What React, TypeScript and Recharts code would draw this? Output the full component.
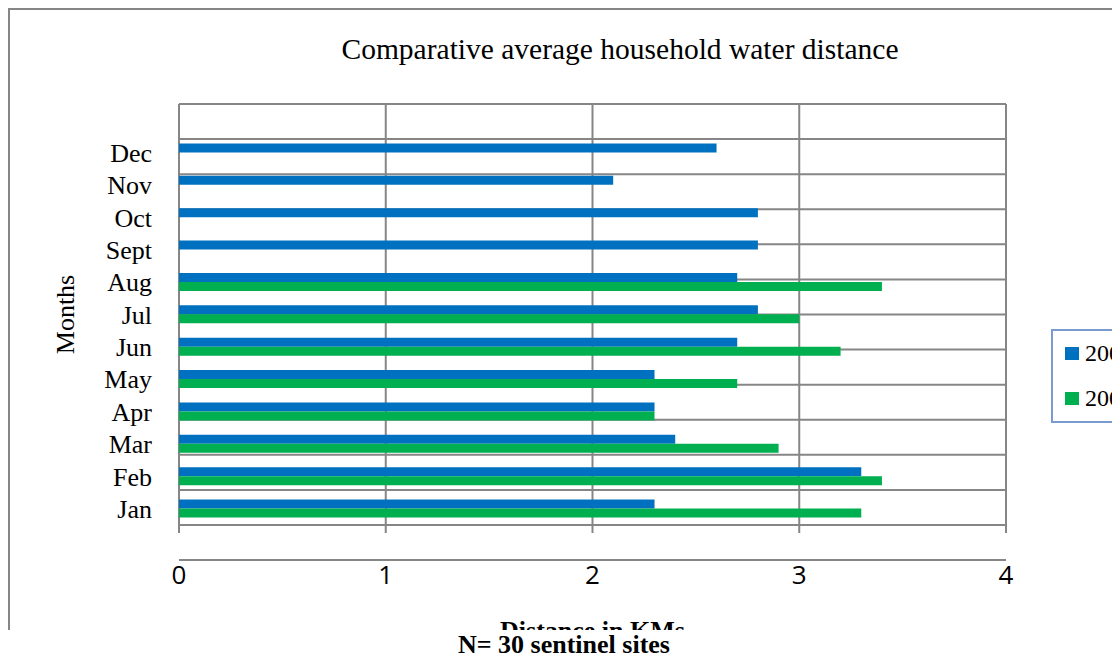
import { BarChart, Bar, XAxis, YAxis, CartesianGrid, Legend } from 'recharts';

const MONTHS = ['Jan', 'Feb', 'Mar', 'Apr', 'May', 'Jun', 'Jul', 'Aug', 'Sept', 'Oct', 'Nov', 'Dec', ''];
const DIST_2008 = [2.3, 3.3, 2.4, 2.3, 2.3, 2.7, 2.8, 2.7, 2.8, 2.8, 2.1, 2.6, null];
const DIST_2009 = [3.3, 3.4, 2.9, 2.3, 2.7, 3.2, 3.0, 3.4, null, null, null, null, null];
const SERIES_NAMES = ['2008', '2009'];
const SERIES_COLORS = ['#0070C0', '#00B050'];
const X_TICKS = [0, 1, 2, 3, 4];

const GRID = '#868686';
const SERIF = '"Liberation Serif", "Times New Roman", serif';

const data = MONTHS.map((month, i) => ({
  month,
  [SERIES_NAMES[0]]: DIST_2008[i],
  [SERIES_NAMES[1]]: DIST_2009[i],
}));

// boundaries between month rows, used for gridlines and tick marks
const ROW_EDGES = MONTHS.map((_, i) => i).concat(MONTHS.length);

function LegendBox() {
  return (
    <div
      style={{
        width: 130,
        height: 90,
        border: '2px solid #7b9bd0',
        background: '#fff',
        fontFamily: SERIF,
        fontSize: 24,
        color: '#000',
      }}
    >
      {SERIES_NAMES.map((name, i) => (
        <div key={name} style={{ display: 'flex', alignItems: 'center', height: 45, paddingLeft: 12 }}>
          <span style={{ width: 14, height: 13, background: SERIES_COLORS[i], marginRight: 6 }} />
          <span>{name}</span>
        </div>
      ))}
    </div>
  );
}

function MonthsLabel(props: any) {
  const { viewBox } = props;
  const cx = viewBox.x + 55;
  const cy = viewBox.y + viewBox.height / 2;
  return (
    <text
      x={cx}
      y={cy}
      transform={`rotate(-90 ${cx} ${cy})`}
      textAnchor="middle"
      dominantBaseline="central"
      fontFamily={SERIF}
      fontSize={26}
      fill="#000"
    >
      Months
    </text>
  );
}

export default function App() {
  return (
    <div style={{ position: 'relative', width: 1112, height: 648 }}>
      <div style={{ width: 1112, height: 622, overflow: 'hidden', position: 'relative' }}>
        <div
          style={{
            position: 'relative',
            width: 1220,
            height: 700,
            border: `2px solid ${GRID}`,
            background: '#fff',
          }}
        >
          <div
            style={{
              position: 'absolute',
              left: 0,
              width: 1220,
              top: 25,
              textAlign: 'center',
              fontFamily: SERIF,
              fontSize: 29.5,
              lineHeight: 1,
              color: '#000',
              whiteSpace: 'nowrap',
            }}
          >
            Comparative average household water distance
          </div>
          <BarChart
            width={1220}
            height={696}
            data={data}
            layout="vertical"
            margin={{ top: 94, right: 90, bottom: 67, left: 0 }}
            barSize={9}
            barGap={0}
          >
            <CartesianGrid yAxisId="edges" stroke={GRID} strokeWidth={2} horizontal vertical />
            <XAxis
              type="number"
              domain={[0, 4]}
              ticks={X_TICKS}
              interval={0}
              height={114}
              tickSize={8}
              tickMargin={33}
              axisLine={{ stroke: GRID, strokeWidth: 2 }}
              tickLine={{ stroke: GRID, strokeWidth: 2 }}
              tick={{ fill: '#000', fontSize: 26, fontFamily: '"Open Sans", Lato, sans-serif' }}
              label={{
                value: 'Distance in KMs',
                position: 'insideBottom',
                offset: 0,
                fill: '#000',
                fontSize: 26,
                fontWeight: 'bold',
                fontFamily: SERIF,
              }}
            />
            <YAxis
              yAxisId="edges"
              type="number"
              domain={[0, MONTHS.length]}
              ticks={ROW_EDGES}
              interval={0}
              width={0}
              tickSize={8}
              tickFormatter={() => ''}
              axisLine={{ stroke: GRID, strokeWidth: 2 }}
              tickLine={{ stroke: GRID, strokeWidth: 2 }}
            />
            <YAxis
              yAxisId="months"
              type="category"
              dataKey="month"
              reversed
              interval={0}
              width={169}
              tickSize={0}
              tickMargin={27}
              axisLine={false}
              tickLine={false}
              tick={{ fill: '#000', fontSize: 26, fontFamily: SERIF }}
              label={{ content: MonthsLabel }}
            />
            <Legend
              layout="vertical"
              align="right"
              verticalAlign="middle"
              content={() => <LegendBox />}
              wrapperStyle={{ position: 'absolute', left: 1041, top: 319, width: 'auto' }}
            />
            {SERIES_NAMES.map((name, i) => (
              <Bar
                key={name}
                yAxisId="months"
                dataKey={name}
                fill={SERIES_COLORS[i]}
                isAnimationActive={false}
              />
            ))}
          </BarChart>
        </div>
      </div>
      <div
        style={{
          position: 'absolute',
          left: 450,
          top: 627,
          fontFamily: SERIF,
          fontSize: 26,
          fontWeight: 'bold',
          lineHeight: '20px',
          color: '#000',
          whiteSpace: 'nowrap',
        }}
      >
        N= 30 sentinel sites
      </div>
    </div>
  );
}
